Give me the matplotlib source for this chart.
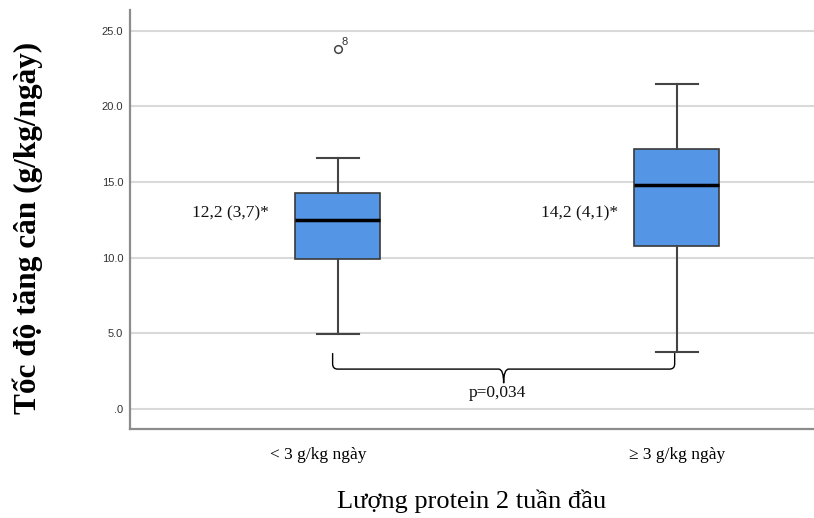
import matplotlib
matplotlib.use('Agg')
import matplotlib.pyplot as plt
import matplotlib.transforms as mtransforms
from matplotlib.path import Path
from matplotlib.patches import PathPatch

# data
groups = ["< 3 g/kg ngày", "≥ 3 g/kg ngày"]
whisker_low = [4.92, 3.73]
q1 = [9.89, 10.79]
median = [12.46, 14.83]
q3 = [14.28, 17.21]
whisker_high = [16.61, 21.51]
outliers = [[23.81], []]
outlier_ids = [["8"], []]
summary_text = ["12,2 (3,7)*", "14,2 (4,1)*"]
p_text = "p=0,034"

serif = ['Liberation Serif', 'DejaVu Serif']
sans = ['Liberation Sans', 'DejaVu Sans']

fig = plt.figure(figsize=(8.14, 5.18), dpi=100)
ax = fig.add_axes([0.160, 0.171, 0.840, 0.810])

stats = []
for i in range(len(groups)):
    stats.append({'whislo': whisker_low[i], 'q1': q1[i], 'med': median[i],
                  'q3': q3[i], 'whishi': whisker_high[i], 'fliers': outliers[i]})

pos = [1, 2]
ax.bxp(stats, positions=pos, widths=0.25, patch_artist=True, showfliers=True,
       boxprops=dict(facecolor='#5495e5', edgecolor='#3a3a3a', linewidth=1.2),
       medianprops=dict(color='black', linewidth=2.5),
       whiskerprops=dict(color='#444444', linewidth=1.5),
       capprops=dict(color='#444444', linewidth=1.5),
       capwidths=0.125,
       flierprops=dict(marker='o', markerfacecolor='white', markeredgecolor='#444444',
                       markersize=5.5, markeredgewidth=1.1),
       zorder=3)

# outlier case numbers
for i in range(len(groups)):
    for v, lab in zip(outliers[i], outlier_ids[i]):
        ax.annotate(lab, (pos[i], v), xytext=(2.5, 2.5), textcoords='offset points',
                    fontsize=8, family=sans, color='#333333')

# median (IQR) annotations
ax.text(0.796, 12.95, summary_text[0], ha='right', va='center', fontsize=12.5,
        family=serif, color='#111111')
ax.text(1.828, 12.95, summary_text[1], ha='right', va='center', fontsize=12.5,
        family=serif, color='#111111')

# curly bracket between groups
x0, x1 = 0.985, 1.994
xm = (x0 + x1) / 2
ytop, yh, ytip = 3.69, 2.63, 1.70
rx, ry = 0.015, 0.35
verts = [(x0, ytop), (x0, yh + ry), (x0, yh), (x0 + rx, yh),
         (xm - rx, yh), (xm, yh), (xm, ytip),
         (xm, yh), (xm + rx, yh),
         (x1 - rx, yh), (x1, yh), (x1, yh + ry), (x1, ytop)]
codes = [Path.MOVETO, Path.LINETO, Path.CURVE3, Path.CURVE3,
         Path.LINETO, Path.CURVE3, Path.CURVE3,
         Path.CURVE3, Path.CURVE3,
         Path.LINETO, Path.CURVE3, Path.CURVE3, Path.LINETO]
ax.add_patch(PathPatch(Path(verts, codes), facecolor='none', edgecolor='black',
                       linewidth=1.0, zorder=4))
ax.text(1.470, 1.04, p_text, ha='center', va='center', fontsize=12.5,
        family=serif, color='#111111')

# axes styling
ax.set_xlim(0.388, 2.405)
ax.set_ylim(-1.36, 26.39)
ax.set_yticks([0, 5, 10, 15, 20, 25])
ax.set_yticklabels(['.0', '5.0', '10.0', '15.0', '20.0', '25.0'])
ax.set_xticks(pos)
ax.set_xticklabels(groups)
ax.tick_params(axis='y', length=0, pad=5, labelsize=8, labelcolor='#333333')
ax.tick_params(axis='x', length=0, pad=13, labelsize=12.5)
for lab in ax.get_yticklabels():
    lab.set_family(sans)
for lab in ax.get_xticklabels():
    lab.set_family(serif)
shift = mtransforms.ScaledTranslation(-19 / 100, 0, fig.dpi_scale_trans)
ax.get_xticklabels()[0].set_transform(ax.get_xticklabels()[0].get_transform() + shift)

ax.yaxis.grid(True, color='#d9d9d9', linewidth=1.5)
ax.set_axisbelow(True)
for s in ['top', 'right']:
    ax.spines[s].set_visible(False)
for s in ['left', 'bottom']:
    ax.spines[s].set_color('#8c8c8c')
    ax.spines[s].set_linewidth(1.6)

ax.set_xlabel("Lượng protein 2 tuần đầu", fontsize=19, family=serif, labelpad=19)
ax.set_ylabel("Tốc độ tăng cân (g/kg/ngày)", fontsize=22.5, family=serif, fontweight='bold')
ax.yaxis.set_label_coords(-0.127, 0.48)

fig.savefig('out.png', dpi=100)
